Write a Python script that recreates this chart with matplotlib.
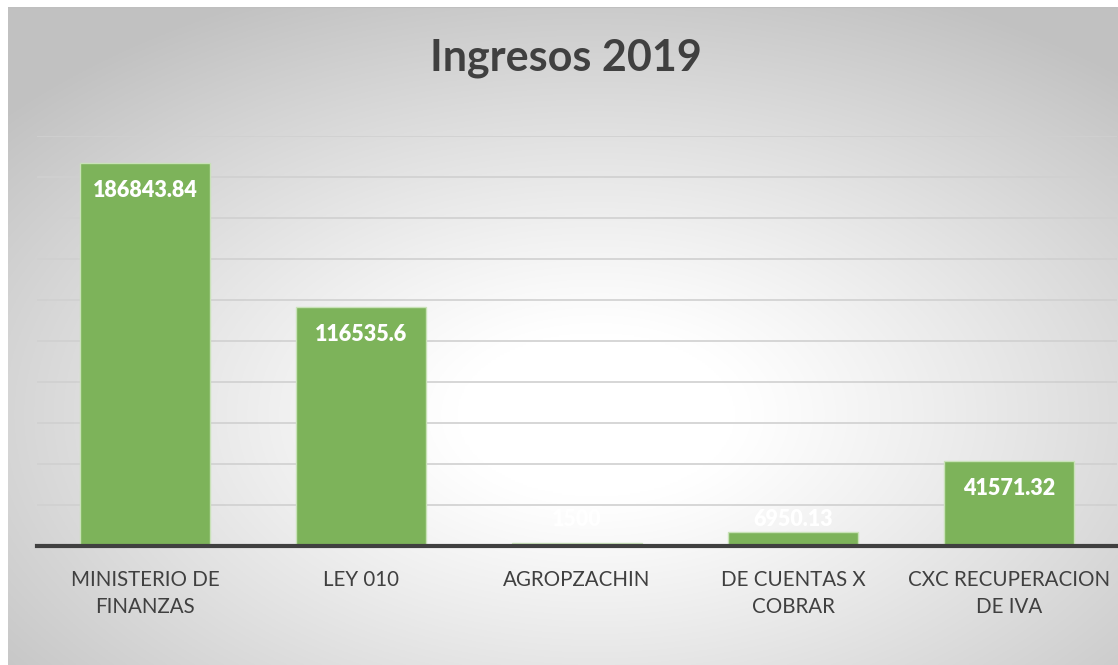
import numpy as np
import matplotlib.pyplot as plt

categorias = ["MINISTERIO DE\nFINANZAS", "LEY 010", "AGROPZACHIN",
              "DE CUENTAS X\nCOBRAR", "CXC RECUPERACION\nDE IVA"]
valores = [186843.84, 116535.6, 1500.0, 6950.13, 41571.32]
etiquetas = ["186843.84", "116535.6", "1500", "6950.13", "41571.32"]

W, H = 1118, 665
fig = plt.figure(figsize=(W / 100, H / 100), dpi=100)
fig.patch.set_facecolor("white")

# fondo con degradado radial (estilo Excel)
bg = fig.add_axes([8 / W, 0, 1 - 8 / W, 1 - 7 / H])
bg.set_axis_off()
yy, xx = np.mgrid[0:1:400j, 0:1:700j]
d = np.sqrt(((xx - 0.53) / 0.7) ** 2 + ((yy - 0.62) / 0.7) ** 2)
d = np.clip((d - 0.18) / 0.82, 0, 1)
shade = 1 - 0.24 * d ** 1.1
bg.imshow(np.dstack([shade] * 3), extent=[0, 1, 0, 1], aspect="auto", origin="upper")
bg.set_xlim(0, 1)
bg.set_ylim(0, 1)
bg.axhline(1, color="#bfbfbf", lw=1.5)

ax = fig.add_axes([37 / W, (H - 546) / H, 1080 / W, 410 / H])
ax.patch.set_alpha(0)
x = np.arange(len(categorias))
bars = ax.bar(x, valores, width=0.606, color="#7db35a", edgecolor="#c9e2b8",
              linewidth=1, zorder=3)
ax.set_xlim(-0.5, len(categorias) - 0.5)
ax.set_ylim(0, 200000)
ax.set_yticks(np.arange(0, 200001, 20000))
ax.yaxis.grid(True, color="#d0d0d0", lw=1.2, zorder=0)
ax.tick_params(axis="y", left=False, labelleft=False)
ax.tick_params(axis="x", length=0, pad=17)
ax.set_xticks(x)
ax.set_xticklabels(categorias, fontsize=14.8, color="#404040", family="Lato",
                   linespacing=1.45)
for s in ["top", "right", "left"]:
    ax.spines[s].set_visible(False)
ax.spines["bottom"].set_color("#404040")
ax.spines["bottom"].set_linewidth(3)
ax.spines["bottom"].set_zorder(4)

for xi, v, t in zip(x, valores, etiquetas):
    yl = max(v - 13500, 13000)
    ax.text(xi, yl, t, ha="center", va="center", color="white",
            fontsize=15.5, fontweight="heavy", family="Lato", zorder=5)

fig.text(566 / W, 1 - 58 / H, "Ingresos 2019", ha="center", va="center",
         fontsize=31, fontweight="bold", color="#404040", family="Lato")

fig.savefig("out.png", dpi=100)
